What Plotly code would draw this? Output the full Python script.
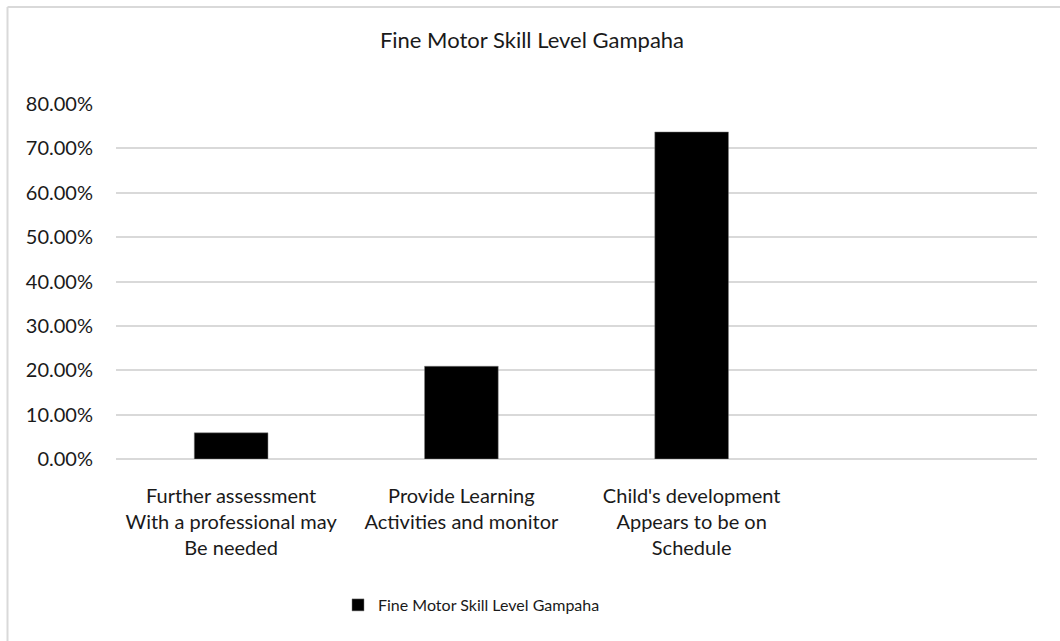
import plotly.graph_objects as go

# Chart data
categories = [
    "Further assessment<br>With a professional may<br>Be needed",
    "Provide Learning<br>Activities and monitor",
    "Child's development<br>Appears to be on<br>Schedule",
]
values = [0.059, 0.209, 0.737]
series_name = "Fine Motor Skill Level Gampaha"
chart_title = "Fine Motor Skill Level Gampaha"

W, H = 1060, 641
L, R, T, B = 116, 23, 104, 182
pw, ph = W - L - R, H - T - B

text_color = "#1a1a1a"
grid_color = "#d9d9d9"
font_family = "Lato, 'Open Sans', sans-serif"

fig = go.Figure()

fig.add_trace(go.Bar(
    x=list(range(len(categories))),
    y=values,
    name=series_name,
    marker=dict(color="black", line=dict(color="#7f7f7f", width=0.5)),
    showlegend=True,
))

# light grey frame round the chart area (runs off the right and bottom edges)
frame_x0 = (7.5 - L) / pw
frame_y1 = (T + ph - 7) / ph
fig.add_shape(type="line", xref="paper", yref="paper",
              x0=frame_x0, x1=(W + 20 - L) / pw, y0=frame_y1, y1=frame_y1,
              line=dict(color=grid_color, width=2), layer="above")
fig.add_shape(type="line", xref="paper", yref="paper",
              x0=frame_x0, x1=frame_x0, y0=(T + ph - (H + 20)) / ph, y1=frame_y1,
              line=dict(color=grid_color, width=2), layer="above")

fig.update_layout(
    width=W,
    height=H,
    margin=dict(l=L, r=R, t=T, b=B, autoexpand=False),
    paper_bgcolor="white",
    plot_bgcolor="white",
    font=dict(family=font_family, color=text_color, size=20),
    title=dict(
        text=chart_title,
        x=(532 - L) / pw, xref="paper", xanchor="center",
        y=1 - 40 / H, yref="container", yanchor="middle",
        font=dict(size=22, color=text_color),
    ),
    bargap=0.68,
    xaxis=dict(
        tickmode="array",
        tickvals=list(range(len(categories))),
        ticktext=categories,
        range=[-0.5, 3.5],
        showgrid=False,
        showline=False,
        zeroline=False,
        ticks="",
        automargin=False,
        ticklabelstandoff=23,
        tickfont=dict(size=20),
    ),
    yaxis=dict(
        range=[0, 0.8],
        dtick=0.1,
        tickformat=".2%",
        showgrid=True,
        gridcolor=grid_color,
        gridwidth=1.5,
        zeroline=True,
        zerolinecolor=grid_color,
        zerolinewidth=1.5,
        showline=False,
        ticks="",
        automargin=False,
        ticklabelstandoff=22,
        tickfont=dict(size=20),
    ),
    legend=dict(
        orientation="h",
        x=(338 - L) / pw, xanchor="left",
        y=(T + ph - 605) / ph, yanchor="middle",
        font=dict(size=16, color=text_color),
        itemwidth=30,
    ),
)

# drop the browser's default 8px page margin so the figure sits at (0, 0)
fig.write_html(
    "out.html",
    config={"displayModeBar": False},
    post_script="document.body.style.margin='0';",
)
